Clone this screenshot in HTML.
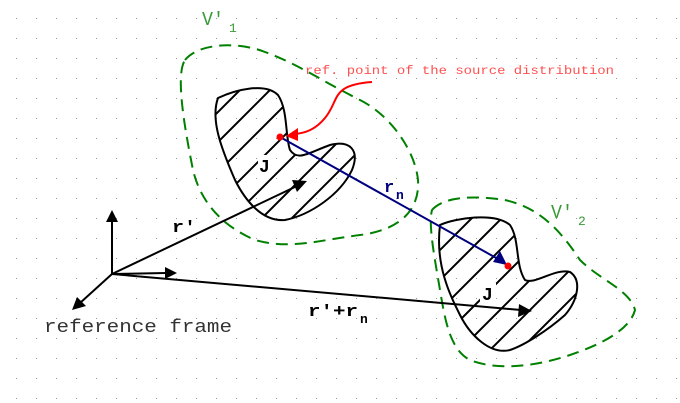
<!DOCTYPE html>
<html><head><style>body{margin:0;background:#fff}svg{display:block}</style></head><body>
<svg width="680" height="403" viewBox="0 0 680 403" xmlns="http://www.w3.org/2000/svg">
<defs>
<pattern id="g" x="16" y="18" width="20" height="20" patternUnits="userSpaceOnUse"><rect x="0" y="0" width="1" height="1" fill="#999"/></pattern>
<clipPath id="c1"><path d="M218,98 C235,90 265,82 278,95 C288,110 285,135 290,150 C298,162 310,152 330,145 C350,140 360,150 352,170 C340,195 310,215 285,220 C262,222 245,200 235,180 C222,150 210,120 218,98 Z"/></clipPath>
<clipPath id="c2"><path d="M440,225 C455,218 495,212 510,225 C520,240 515,265 525,280 C535,285 555,268 570,272 C582,280 578,300 565,315 C548,330 525,345 510,350 C490,355 470,335 460,315 C450,295 435,265 440,225 Z"/></clipPath>
</defs>
<rect width="680" height="403" fill="url(#g)"/>
<g fill="none" stroke="#008000" stroke-width="2" stroke-dasharray="12,7">
<path d="M185,60 C200,42 240,42 265,52 C300,65 320,80 360,100 C390,115 415,150 418,180 C420,210 400,230 360,235 C320,240 290,250 255,240 C220,225 200,200 193,170 C185,130 175,75 185,60 Z"/>
<path d="M432,210 C445,195 480,196 505,200 C540,208 560,230 580,260 C600,280 630,290 635,310 C630,330 600,345 570,355 C540,365 500,372 470,360 C450,350 445,320 440,290 C435,260 428,225 432,210 Z"/>
</g>
<g clip-path="url(#c1)" stroke="#000" stroke-width="2">
<path d="M180,150 l120,-120 M180,180 l140,-140 M180,210 l160,-160 M190,230 l170,-170 M210,240 l170,-170 M230,250 l170,-170 M250,260 l150,-150"/>
</g>
<g clip-path="url(#c2)" stroke="#000" stroke-width="2">
<path d="M420,270 l100,-100 M420,300 l120,-120 M430,320 l140,-140 M445,335 l150,-150 M460,350 l150,-150 M480,360 l140,-140 M505,365 l120,-120"/>
</g>
<g fill="none" stroke="#000" stroke-width="2">
<path d="M218,98 C235,90 265,82 278,95 C288,110 285,135 290,150 C298,162 310,152 330,145 C350,140 360,150 352,170 C340,195 310,215 285,220 C262,222 245,200 235,180 C222,150 210,120 218,98 Z"/>
<path d="M440,225 C455,218 495,212 510,225 C520,240 515,265 525,280 C535,285 555,268 570,272 C582,280 578,300 565,315 C548,330 525,345 510,350 C490,355 470,335 460,315 C450,295 435,265 440,225 Z"/>
</g>
<rect x="258" y="155" width="16" height="20" fill="#fff"/>
<rect x="480" y="283" width="16" height="20" fill="#fff"/>
<g stroke="#000" stroke-width="2" fill="none">
<line x1="112" y1="274" x2="112" y2="220"/>
<line x1="112" y1="274" x2="166" y2="273"/>
<line x1="112" y1="274" x2="80" y2="303"/>
<line x1="112" y1="274" x2="297" y2="186"/>
<line x1="112" y1="274" x2="521" y2="310"/>
</g>
<g fill="#000">
<polygon points="112,210 106,222 118,222"/>
<polygon points="177,273 165,267 165,279"/>
<polygon points="72,310 77,297 86,306"/>
<polygon points="307,181 292,180 297,192"/>
<polygon points="532,311 519,304 518,317"/>
</g>
<line x1="280" y1="137" x2="498" y2="259" stroke="#00007f" stroke-width="2"/>
<polygon points="507,265 493,262 500,251" fill="#00007f"/>
<path d="M372,82 C330,85 340,100 325,118 C315,130 305,133 295,134" fill="none" stroke="#f00" stroke-width="2"/>
<polygon points="286,136 298,128 298,141" fill="#f00"/>
<circle cx="280" cy="137" r="3.5" fill="#f00"/>
<circle cx="508" cy="266" r="3.5" fill="#f00"/>
<g font-family="Liberation Mono, monospace">
<text x="202" y="25" fill="#3a9a3a" font-size="19" textLength="22" lengthAdjust="spacingAndGlyphs">V'</text><text x="229" y="32" fill="#3a9a3a" font-size="13">1</text>
<text x="551" y="218" fill="#3a9a3a" font-size="19" textLength="22" lengthAdjust="spacingAndGlyphs">V'</text><text x="578" y="225" fill="#3a9a3a" font-size="13">2</text>
<text x="305" y="74" fill="#ff5050" font-size="12" textLength="309" lengthAdjust="spacingAndGlyphs">ref. point of the source distribution</text>
<text x="259" y="172" font-size="18" font-weight="bold">J</text>
<text x="482" y="300" font-size="18" font-weight="bold">J</text>
<text x="384" y="192" fill="#00007f" font-size="17" font-weight="bold">r</text><text x="396" y="199" fill="#00007f" font-size="13" font-weight="bold">n</text>
<text x="172" y="232" font-size="17" font-weight="bold" textLength="24" lengthAdjust="spacingAndGlyphs">r'</text>
<text x="308" y="316" font-size="17" font-weight="bold" textLength="50" lengthAdjust="spacingAndGlyphs">r'+r</text><text x="360" y="323" font-size="13" font-weight="bold">n</text>
<text x="44" y="332" font-size="18" fill="#333" textLength="188" lengthAdjust="spacingAndGlyphs">reference frame</text>
</g>
</svg>
</body></html>
